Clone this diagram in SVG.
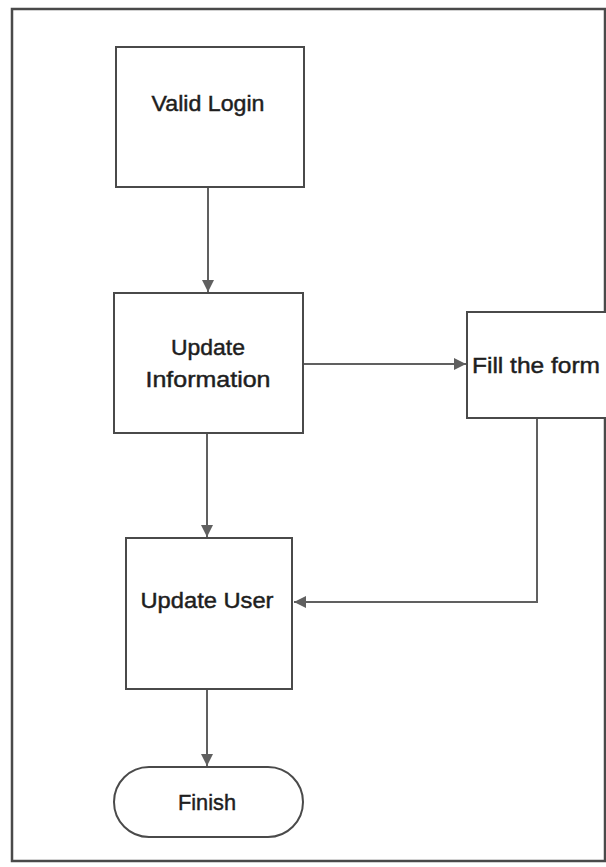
<svg xmlns="http://www.w3.org/2000/svg" width="606" height="867" viewBox="0 0 606 867">
<style>
.box{fill:#fff;stroke:#4a4a4a;stroke-width:2}
.lbl{font-family:"Liberation Sans",Arial,sans-serif;font-size:22px;fill:#1e1e1e;stroke:#1e1e1e;stroke-width:0.45;text-anchor:middle}
.con{fill:none;stroke:#606060;stroke-width:2}
</style>
<defs>
<marker id="ah" viewBox="0 0 10 10" refX="10" refY="5" markerWidth="6" markerHeight="6" orient="auto" markerUnits="strokeWidth">
<path d="M0,0 L10,5 L0,10 z" fill="#606060"/>
</marker>
</defs>
<rect width="606" height="867" fill="#fff"/>
<rect id="frame" x="12" y="9" width="593" height="852" fill="none" stroke="#4a4a4a" stroke-width="2.5"/>
<g id="connectors">
<line class="con" x1="208" y1="187" x2="208" y2="292" marker-end="url(#ah)"/>
<line class="con" x1="303" y1="364" x2="466" y2="364" marker-end="url(#ah)"/>
<line class="con" x1="207" y1="433" x2="207" y2="537" marker-end="url(#ah)"/>
<polyline class="con" points="537,418 537,602 294,602" marker-end="url(#ah)"/>
<line class="con" x1="207" y1="689" x2="207" y2="766" marker-end="url(#ah)"/>
</g>
<g id="valid-login">
<rect class="box" x="116" y="47" width="188" height="140"/>
<text class="lbl" x="208" y="111" textLength="113" lengthAdjust="spacingAndGlyphs">Valid Login</text>
</g>
<g id="update-information">
<rect class="box" x="114" y="293" width="189" height="140"/>
<text class="lbl" x="208" y="355" textLength="74" lengthAdjust="spacingAndGlyphs">Update</text>
<text class="lbl" x="208" y="387" textLength="125" lengthAdjust="spacingAndGlyphs">Information</text>
</g>
<g id="fill-the-form">
<rect class="box" x="467" y="312" width="150" height="106"/>
<text class="lbl" x="536" y="373" textLength="128" lengthAdjust="spacingAndGlyphs">Fill the form</text>
</g>
<g id="update-user">
<rect class="box" x="126" y="538" width="166" height="151"/>
<text class="lbl" x="207" y="608" textLength="133" lengthAdjust="spacingAndGlyphs">Update User</text>
</g>
<g id="finish">
<rect class="box" x="114" y="767" width="189" height="70" rx="35" ry="35"/>
<text class="lbl" x="207" y="810" textLength="58" lengthAdjust="spacingAndGlyphs">Finish</text>
</g>
</svg>
